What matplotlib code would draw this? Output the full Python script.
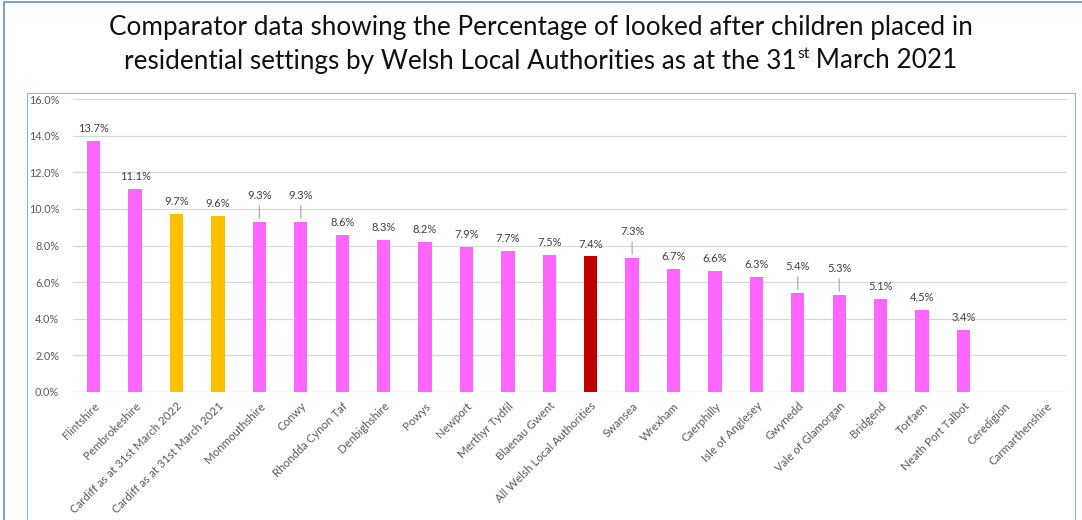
import matplotlib
matplotlib.use("Agg")
import matplotlib.pyplot as plt
from matplotlib.patches import Rectangle
from matplotlib.ticker import FuncFormatter

plt.rcParams['font.family'] = ['Lato', 'DejaVu Sans']

# data (percent of looked after children in residential settings)
authorities = ["Flintshire", "Pembrokeshire", "Cardiff as at 31st March 2022",
               "Cardiff as at 31st March 2021", "Monmouthshire", "Conwy",
               "Rhondda Cynon Taf", "Denbighshire", "Powys", "Newport",
               "Merthyr Tydfil", "Blaenau Gwent", "All Welsh Local Authorities",
               "Swansea", "Wrexham", "Caerphilly", "Isle of Anglesey", "Gwynedd",
               "Vale of Glamorgan", "Bridgend", "Torfaen", "Neath Port Talbot",
               "Ceredigion", "Carmarthenshire"]
values = [13.7, 11.1, 9.7, 9.6, 9.3, 9.3, 8.6, 8.3, 8.2, 7.9, 7.7, 7.5, 7.4,
          7.3, 6.7, 6.6, 6.3, 5.4, 5.3, 5.1, 4.5, 3.4, None, None]
kind = ["la", "la", "cardiff", "cardiff", "la", "la", "la", "la", "la", "la",
        "la", "la", "wales", "la", "la", "la", "la", "la", "la", "la", "la",
        "la", "la", "la"]
leader = ["Monmouthshire", "Conwy", "Swansea", "Gwynedd", "Vale of Glamorgan"]

colours = {"la": "#FF66FF", "cardiff": "#FFC000", "wales": "#C00000"}

W, H = 1082, 520
fig = plt.figure(figsize=(W / 100, H / 100), dpi=100)

# frames round the slide and the chart
fig.add_artist(Rectangle((4 / W, -0.01), 1.1, 1 - 1.5 / H + 0.01, transform=fig.transFigure,
                         fill=False, edgecolor="#5B8FD6", lw=1.2))
fig.add_artist(Rectangle((27 / W, -0.01), (1075 - 27) / W, 1 - 93 / H + 0.01,
                         transform=fig.transFigure, fill=False, edgecolor="#8FB4E3", lw=0.8))

ax = fig.add_axes([73 / W, 1 - 392 / H, (1067 - 73) / W, (392 - 99) / H])

x = list(range(len(authorities)))
heights = [v if v is not None else 0 for v in values]
ax.bar(x, heights, width=0.32, color=[colours[k] for k in kind], zorder=3)

for i, v in enumerate(values):
    if v is None:
        continue
    if authorities[i] in leader:
        ax.annotate("", xy=(i, v + 0.05), xytext=(0, 13), textcoords="offset points",
                    ha="center", arrowprops=dict(arrowstyle="-", color="#A6A6A6", lw=0.8))
        off = 15
    else:
        off = 5
    ax.annotate(f"{v:.1f}%", xy=(i, v), xytext=(0, off), textcoords="offset points",
                ha="center", va="bottom", fontsize=8, color="#404040")

ax.set_xlim(-0.5, len(authorities) - 0.5)
ax.set_ylim(0, 16)
ax.set_yticks(range(0, 17, 2))
ax.yaxis.set_major_formatter(FuncFormatter(lambda v, p: f"{v:.1f}%"))
ax.set_xticks(x)
ax.set_xticklabels(authorities, rotation=45, ha="right", rotation_mode="anchor")
ax.tick_params(axis="both", length=0, labelcolor="#595959")
ax.tick_params(axis="x", labelsize=8.3, pad=6)
ax.tick_params(axis="y", labelsize=7.8, pad=10)
ax.grid(axis="y", color="#D9D9D9", lw=0.9, zorder=0)
for s in ax.spines.values():
    s.set_visible(False)
ax.axhline(0, color="#D9D9D9", lw=0.9, zorder=2)

# title, second line built in pieces for the superscript
tsize = 18.8
fig.text(0.5, 1 - 27 / H, "Comparator data showing the Percentage of looked after children placed in",
         ha="center", va="center", fontsize=tsize, color="#111111")
r = fig.canvas.get_renderer()
parts = [("residential settings by Welsh Local Authorities as at the 31", tsize, 0),
         ("st", tsize * 0.6, 7),
         (" March 2021", tsize, 0)]
texts = []
total = 0
for s, fs, dy in parts:
    t = fig.text(0, 1 - 61 / H + dy / H, s, ha="left", va="center", fontsize=fs,
                 color="#111111")
    w = t.get_window_extent(r).width
    texts.append((t, w))
    total += w
xpos = (W - total) / 2
for t, w in texts:
    t.set_x(xpos / W)
    xpos += w

fig.savefig("out.png", dpi=100)
